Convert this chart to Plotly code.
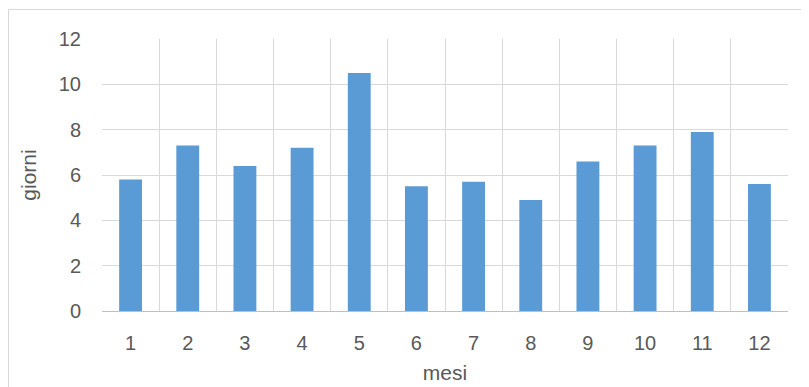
import plotly.graph_objects as go

mesi = ["1", "2", "3", "4", "5", "6", "7", "8", "9", "10", "11", "12"]
giorni = [5.8, 7.3, 6.4, 7.2, 10.5, 5.5, 5.7, 4.9, 6.6, 7.3, 7.9, 5.6]
y_ticks = [0, 2, 4, 6, 8, 10, 12]

# page body has an 8px margin, so the figure is drawn at (8, 8)
W, H = 801, 379
L, R, T, B = 94, 21, 31, 76
pw, ph = W - L - R, H - T - B

fig = go.Figure(go.Bar(x=mesi, y=giorni, marker=dict(color="#5B9BD5", line=dict(width=0)),
                       hoverinfo="x+y"))

font = "Liberation Sans, Arial, sans-serif"
fig.update_layout(
    width=W, height=H,
    margin=dict(l=L, r=R, t=T, b=B, autoexpand=False),
    paper_bgcolor="white", plot_bgcolor="white",
    bargap=0.6,
    showlegend=False,
    font=dict(family=font, color="#595959", size=20),
    xaxis=dict(type="category", tickson="boundaries", showgrid=True, gridcolor="#D9D9D9",
               gridwidth=1, ticks="", showline=True, linecolor="#BFBFBF", linewidth=1,
               ticklabelstandoff=14, tickfont=dict(size=20, color="#595959"),
               title=dict(text="mesi", font=dict(size=21, color="#595959"), standoff=12),
               zeroline=False, automargin=False),
    yaxis=dict(range=[0, 12], tickvals=y_ticks, showgrid=True, gridcolor="#D9D9D9",
               gridwidth=1, ticks="", showline=False, zeroline=False,
               ticklabelstandoff=20, tickfont=dict(size=20, color="#595959"),
               title=dict(text="giorni", font=dict(size=21, color="#595959"), standoff=16),
               automargin=False),
    shapes=[dict(type="rect", xref="paper", yref="paper",
                 x0=(0.5 - L) / pw, x1=1.2, y0=-0.5, y1=(H - B - 1.5) / ph,
                 line=dict(color="#D9D9D9", width=1), fillcolor="rgba(0,0,0,0)", layer="below")],
)

fig.write_html("out.html")
